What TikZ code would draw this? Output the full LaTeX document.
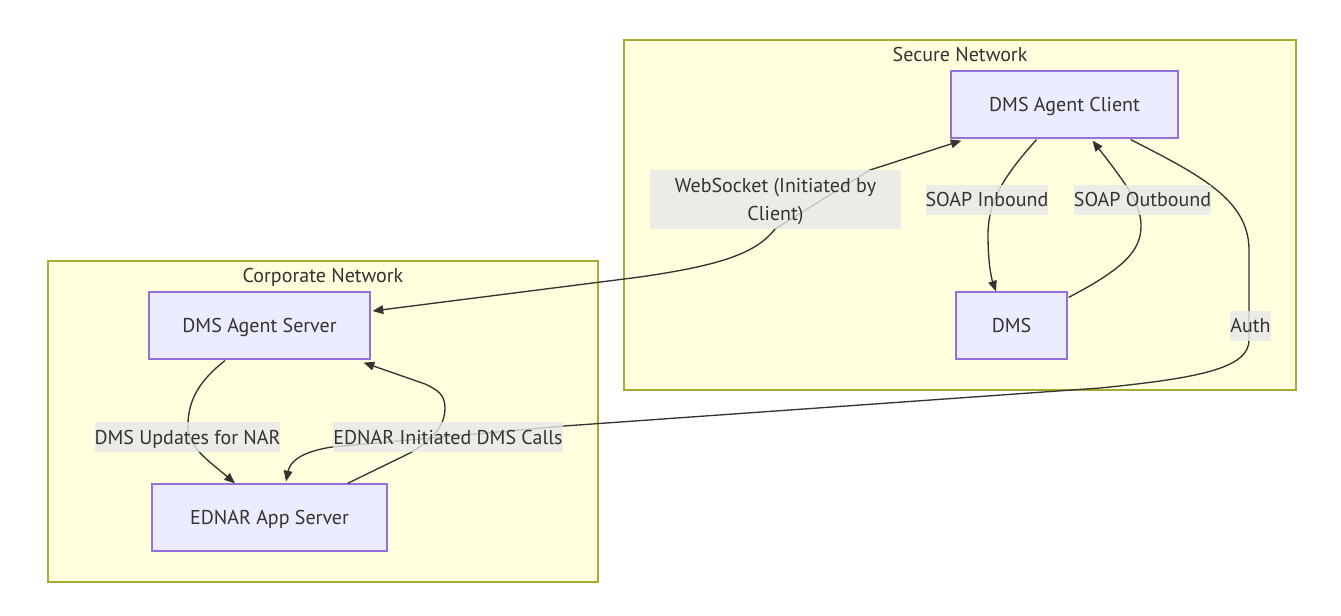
\documentclass[tikz,border=0pt]{standalone}
\usepackage{fontspec}
\setmainfont{PT Sans}
\usetikzlibrary{positioning,calc,arrows.meta}
\definecolor{clfill}{HTML}{FFFFDE}
\definecolor{cldraw}{HTML}{AAAA33}
\definecolor{ndfill}{HTML}{ECECFF}
\definecolor{nddraw}{HTML}{9370DB}
\definecolor{lbfill}{HTML}{E8E8E8}
\definecolor{ink}{HTML}{333333}

\begin{document}
\begin{tikzpicture}[x = .75pt, y = -.75pt,
    txt/.style = {text = ink, font = \fontsize{15}{21}\selectfont, text height = 10.5pt, text depth = 0pt},
    cluster/.style = {draw = cldraw, fill = clfill, line width = .9pt},
    box/.style = {txt, draw = nddraw, fill = ndfill, line width = .9pt, minimum height = 50.25pt},
    lbl/.style = {txt, fill = lbfill, fill opacity = .8, text opacity = 1, inner xsep = 0pt, inner ysep = 0pt, minimum height = 22.5pt, align = center},
    link/.style = {draw = ink, line width = 1pt},
    tip/.style = {-{Triangle[length = 8pt, width = 6.5pt]}},
    twotip/.style = {{Triangle[length = 8pt, width = 6.5pt]}-{Triangle[length = 8pt, width = 6.5pt]}}]
    \useasboundingbox (0,0) rectangle (1341,616);

    % the two networks
    \draw[cluster] (624,40) rectangle (1296,390);
    \node[txt] (secure) at (960,55) {Secure Network};
    \draw[cluster] (48,261) rectangle (598,582);
    \node[txt] (corp) at (323,276) {Corporate Network};

    \node[box, minimum width = 170.25pt] (ac) at (1064.5,104.5) {DMS Agent Client};
    \node[box, minimum width = 83.25pt] (dms) at (1011.5,325.5) {DMS};
    \node[box, minimum width = 165.75pt] (as) at (259.5,325.5) {DMS Agent Server};
    \node[box, minimum width = 176.25pt] (app) at (269.5,517.5) {EDNAR App Server};

    % connectors
    \draw[link, twotip] ($(as.east)+(2,-14.5)$) -- (640,277) .. controls (715,266) and (755,255) .. (775,229) -- (870,170) -- ($(ac.south west)+(11,2)$);
    \draw[link, tip] ($(ac.south)+(-28,1)$) .. controls (1005,175) and (988,200) .. (988,235) .. controls (988,266) and (992,280) .. ($(dms.north)+(-15.5,0)$);
    \draw[link, tip] ($(dms.north east)+(1,6)$) .. controls (1125,268) and (1141,250) .. (1141,226) .. controls (1141,205) and (1128,186) .. ($(ac.south)+(28,2)$);
    \draw[link, tip] ($(ac.south east)+(-48,1)$) .. controls (1200,175) and (1249,200) .. (1249,250) -- (1249,340) .. controls (1249,368) and (1200,378) .. (1100,388) -- (564,426) -- (332,447) .. controls (300,452) and (290,462) .. ($(app.north)+(16.5,-2)$);
    \draw[link, tip] ($(as.south)+(-34.5,1)$) .. controls (200,380) and (188,400) .. (188,425) .. controls (188,448) and (208,460) .. ($(app.north)+(-34.5,0)$);
    \draw[link, tip] ($(app.north east)+(-40,0)$) -- (410,453) .. controls (440,435) and (445,420) .. (445,408) .. controls (445,395) and (438,390) .. (425,384) -- ($(as.south east)+(-7,3)$);

    % edge labels
    \node[lbl, minimum width = 188.25pt, minimum height = 44.25pt, text height = 31.5pt] (wslbl) at (775.5,199.5) {WebSocket (Initiated by\\Client)};
    \node[lbl] (inlbl) at (987,200) {SOAP Inbound};
    \node[lbl] (outlbl) at (1142.5,200) {SOAP Outbound};
    \node[lbl] (authlbl) at (1250.5,326) {Auth};
    \node[lbl] (updlbl) at (187.5,437) {DMS Updates for NAR};
    \node[lbl] (calllbl) at (448,437) {EDNAR Initiated DMS Calls};
\end{tikzpicture}
\end{document}
